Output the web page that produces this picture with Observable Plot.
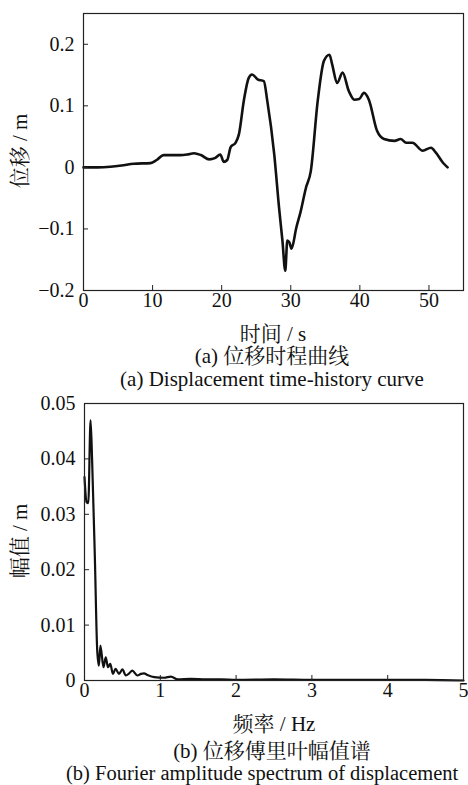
<!DOCTYPE html>
<html>
<head>
<meta charset="utf-8">
<script src="https://cdn.jsdelivr.net/npm/d3@7"></script>
<script src="https://cdn.jsdelivr.net/npm/@observablehq/plot@0.6"></script>
<style>
  html, body { margin: 0; padding: 0; background: #fff; }
  body { width: 468px; height: 785px; overflow: hidden; position: relative; color: #111; }
  .abs { position: absolute; white-space: nowrap; font-size: 21px; line-height: 24px; height: 24px;
         font-family: 'Liberation Serif', 'Noto Serif CJK SC'; }
  .ctr { text-align: center; width: 500px; }
  .rot { transform: translate(-50%, -50%) rotate(-90deg); line-height: 24px; }
  .panel { position: absolute; left: 0; }
</style>
</head>
<body>
<div id="p1" class="panel" style="top:0px"></div>
<div id="p2" class="panel" style="top:390px"></div>

<div class="abs rot" style="left:20px; top:151px">位移 / m</div>
<div class="abs ctr" style="left:23px; top:322px">时间 / s</div>
<div class="abs ctr" style="left:22px; top:344px">(a) 位移时程曲线</div>
<div class="abs ctr" style="left:22px; top:367px">(a) Displacement time-history curve</div>

<div class="abs rot" style="left:20px; top:541px">幅值 / m</div>
<div class="abs ctr" style="left:24px; top:712px">频率 / Hz</div>
<div class="abs ctr" style="left:22px; top:739px">(b) 位移傅里叶幅值谱</div>
<div class="abs" style="left:66px; top:761px; font-size:20.5px">(b) Fourier amplitude spectrum of displacement</div>

<script>
// ---- (a) displacement time history ----
const timeS = [0, 2, 3.9, 5.5, 7.3, 9.7, 10.6, 11.6, 13, 14, 15, 16, 17, 18.2, 19, 19.8, 20.3, 20.8, 21.3, 22, 22.5, 23.2, 23.9, 24.4, 25.2, 26.1, 26.6, 27.6, 28.3, 28.8, 29.2, 29.5, 29.8, 30.1, 30.8, 31.4, 32.2, 32.9, 33.9, 34.8, 35.6, 36.0, 36.7, 37.5, 38.4, 39.2, 39.9, 40.6, 41.3, 42.5, 43.5, 45, 45.9, 46.7, 47.6, 49.1, 50.3, 51, 52, 52.7];
const dispM = [0, 0, 0.001, 0.003, 0.006, 0.007, 0.012, 0.02, 0.02, 0.02, 0.021, 0.023, 0.02, 0.013, 0.015, 0.021, 0.009, 0.012, 0.033, 0.04, 0.054, 0.108, 0.145, 0.151, 0.143, 0.14, 0.108, 0.022, -0.065, -0.12, -0.168, -0.119, -0.122, -0.132, -0.098, -0.073, -0.033, -0.006, 0.108, 0.173, 0.183, 0.167, 0.137, 0.154, 0.124, 0.11, 0.111, 0.121, 0.11, 0.059, 0.046, 0.043, 0.046, 0.04, 0.04, 0.027, 0.032, 0.024, 0.008, 0.0];
const xTicksA = [0, 10, 20, 30, 40, 50];
const yTicksA = [-0.2, -0.1, 0, 0.1, 0.2];
const yTickLabelsA = ["\u22120.2", "\u22120.1", "0", "0.1", "0.2"];

// ---- (b) Fourier amplitude spectrum ----
const freqHz = [0, 0.027, 0.05, 0.08, 0.1, 0.137, 0.168, 0.19, 0.21, 0.25, 0.28, 0.31, 0.34, 0.375, 0.41, 0.455, 0.5, 0.545, 0.59, 0.63, 0.70, 0.745, 0.785, 0.83, 0.92, 1.05, 1.14, 1.23, 1.4, 1.6, 1.8, 2.0, 2.5, 3.0, 3.5, 4.0, 4.5, 5.0];
const ampM = [0.0367, 0.0322, 0.032, 0.047, 0.040, 0.022, 0.0054, 0.0027, 0.0063, 0.0024, 0.0042, 0.0024, 0.003, 0.0012, 0.0021, 0.0012, 0.002, 0.0009, 0.0013, 0.0018, 0.0009, 0.0012, 0.0013, 0.001, 0.0006, 0.0005, 0.0007, 0.0002, 0.0003, 0.0002, 0.0002, 0.0001, 0.0002, 0.0001, 0.0001, 0.0001, 0.0001, 0.0];
const xTicksB = [0, 1, 2, 3, 4, 5];
const yTicksB = [0, 0.01, 0.02, 0.03, 0.04, 0.05];
const yTickLabelsB = ["0", "0.01", "0.02", "0.03", "0.04", "0.05"];

const tsData = timeS.map((t, i) => ({t, d: dispM[i]}));
const spData = freqHz.map((f, i) => ({f, a: ampM[i]}));

const serif = "Liberation Serif";
const baseStyle = {fontFamily: "'Liberation Serif'", fontSize: "20px", color: "#111", background: "white", overflow: "visible"};

function panel({data, x, y, xDomain, yDomain, xTicks, yTicks, yLabels, ml, sw}) {
  return Plot.plot({
    width: 468, height: 320,
    marginLeft: ml, marginRight: 5, marginTop: 13, marginBottom: 30,
    style: baseStyle,
    x: {domain: xDomain, label: null},
    y: {domain: yDomain, label: null},
    marks: [
      Plot.line(data, {x, y, stroke: "#111", strokeWidth: sw, curve: "monotone-x"}),
      Plot.frame({stroke: "#222", strokeWidth: 1.2}),
      Plot.axisX(xTicks, {anchor: "bottom", tickSize: 5, dy: -5, tickFormat: () => "", label: null, stroke: "#222"}),
      Plot.axisY(yTicks, {anchor: "left", tickSize: 5, dx: 5, tickFormat: () => "", label: null, stroke: "#222"}),
      Plot.axisX(xTicks, {anchor: "bottom", tickSize: 0, tickPadding: 2, label: null, fill: "#111", fontSize: 20, fontFamily: serif}),
      Plot.axisY(yTicks, {anchor: "left", tickSize: 0, tickPadding: 9, label: null, fill: "#111", fontSize: 20, fontFamily: serif,
        tickFormat: d => yLabels[yTicks.indexOf(d)]})
    ]
  });
}

document.getElementById("p1").append(panel({
  data: tsData, x: "t", y: "d", xDomain: [0, 55], yDomain: [-0.2, 0.25],
  xTicks: xTicksA, yTicks: yTicksA, yLabels: yTickLabelsA, ml: 83, sw: 2.6
}));
document.getElementById("p2").append(panel({
  data: spData, x: "f", y: "a", xDomain: [0, 5], yDomain: [0, 0.05],
  xTicks: xTicksB, yTicks: yTicksB, yLabels: yTickLabelsB, ml: 84, sw: 2.2
}));
</script>
</body>
</html>
